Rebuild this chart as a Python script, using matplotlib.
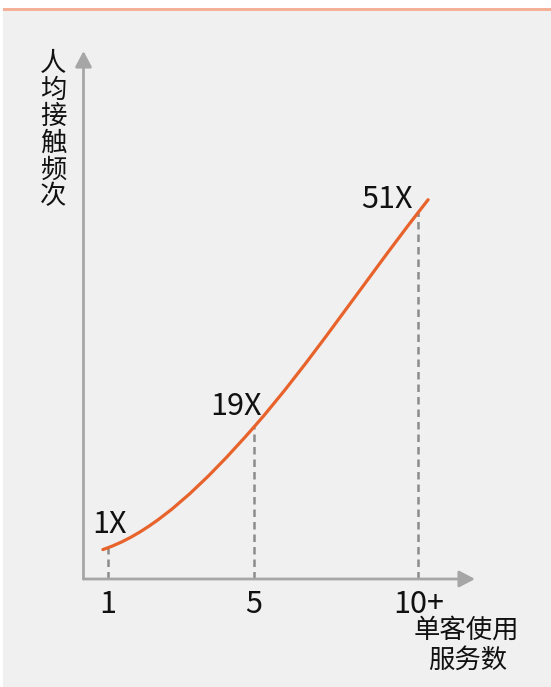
import matplotlib
matplotlib.use("Agg")
import matplotlib.pyplot as plt
from matplotlib.path import Path
from matplotlib.patches import PathPatch, Rectangle

plt.rcParams['font.family'] = ['Noto Sans CJK SC', 'DejaVu Sans']

# ---- data ----
tick_labels = ["1", "5", "10+"]          # services used per customer
x_pos = [1, 5, 9.5]                      # positions of those categories on the axis
touch_freq = [1, 19, 51]                 # average contact frequency multiple
value_labels = ["1X", "19X", "51X"]
y_title = "人均接触频次"
x_title = ["单客使用", "服务数"]

# curve shape: tangent slope at each key point, and short lead/tail extensions
slopes = [2.0, 6.2, 7.0]
lead, tail = 0.14, 0.27

W, H = 551, 687
fig = plt.figure(figsize=(W / 100, H / 100), dpi=100, facecolor="white")

# panel background and top accent rule (behind the axes)
fig.patches.append(Rectangle((3 / W, 0), 1 - 3 / W, 1 - 11 / H,
                             transform=fig.transFigure, facecolor="#f0f0f0",
                             edgecolor="none", zorder=-2))
fig.patches.append(Rectangle((3 / W, 1 - 11 / H), 1 - 3 / W, 3 / H,
                             transform=fig.transFigure, facecolor="#f4b197",
                             edgecolor="none", zorder=-2))

# axes frame: origin at (83.5, 579) px, arrow tips at x=475 px and y=51 px
left, right, bottom, top = 83.5, 475, 579, 51
ax = fig.add_axes([left / W, (H - bottom) / H, (right - left) / W, (bottom - top) / H])
ax.set_facecolor("none")
for s in ax.spines.values():
    s.set_visible(False)
ax.set_xticks([])
ax.set_yticks([])

px_per_x = 36.5
px_per_y = 6.706
ax.set_xlim(x_pos[0] - (108 - left) / px_per_x, x_pos[0] + (right - 108) / px_per_x)
y0_px = 554.4
ax.set_ylim((y0_px - bottom) / px_per_y, (y0_px - top) / px_per_y)
ymin = ax.get_ylim()[0]

axis_col = "#a6a6a6"
arrow = dict(arrowstyle="-|>,head_length=0.95,head_width=0.5", lw=2.0,
             color=axis_col, shrinkA=0, shrinkB=0, mutation_scale=10)
ax.annotate("", xy=(1, 0), xytext=(0, 0), xycoords="axes fraction",
            arrowprops=arrow, annotation_clip=False)
ax.annotate("", xy=(0, 1), xytext=(0, 0), xycoords="axes fraction",
            arrowprops=arrow, annotation_clip=False)

# dashed drop lines
ax.vlines(x_pos, ymin, touch_freq, colors="#8c8c8c", linewidth=1.8,
          linestyles=(0, (3, 2)), zorder=2)

# smooth curve through the key points (cubic Hermite as Bezier segments)
verts = [(x_pos[0] - lead, touch_freq[0] - slopes[0] * lead), (x_pos[0], touch_freq[0])]
codes = [Path.MOVETO, Path.LINETO]
for i in range(len(x_pos) - 1):
    h = x_pos[i + 1] - x_pos[i]
    verts += [(x_pos[i] + h / 3, touch_freq[i] + slopes[i] * h / 3),
              (x_pos[i + 1] - h / 3, touch_freq[i + 1] - slopes[i + 1] * h / 3),
              (x_pos[i + 1], touch_freq[i + 1])]
    codes += [Path.CURVE4] * 3
verts.append((x_pos[-1] + tail, touch_freq[-1] + slopes[-1] * tail))
codes.append(Path.LINETO)
ax.add_patch(PathPatch(Path(verts, codes), facecolor="none", edgecolor="#e8632b",
                       linewidth=2.3, capstyle="round", zorder=3))

# value labels
offsets = [(13.7, 10.6), (5.8, 8.6), (-4.3, 3.2)]
for x, y, lab, off in zip(x_pos, touch_freq, value_labels, offsets):
    ax.annotate(lab, xy=(x, y), xytext=off, textcoords="offset points",
                ha="right", va="baseline", fontsize=22, color="#111111",
                annotation_clip=False)

# category labels under the axis
for x, lab in zip(x_pos, tick_labels):
    ax.annotate(lab, xy=(x, 0), xycoords=("data", "axes fraction"),
                xytext=(0, -24.5), textcoords="offset points",
                ha="center", va="baseline", fontsize=22, color="#111111",
                annotation_clip=False)

# vertical y-axis title, one character per line
for i, ch in enumerate(y_title):
    fig.text(53 / W, 1 - (63.5 + i * 26.6) / H, ch, ha="center", va="center",
             fontsize=19, color="#111111")

# x-axis title in two lines
fig.text(466 / W, 1 - 630.5 / H, x_title[0], ha="center", va="center",
         fontsize=19, color="#111111")
fig.text(468 / W, 1 - 660.5 / H, x_title[1], ha="center", va="center",
         fontsize=19, color="#111111")

fig.savefig("out.png", dpi=100, facecolor=fig.get_facecolor())
